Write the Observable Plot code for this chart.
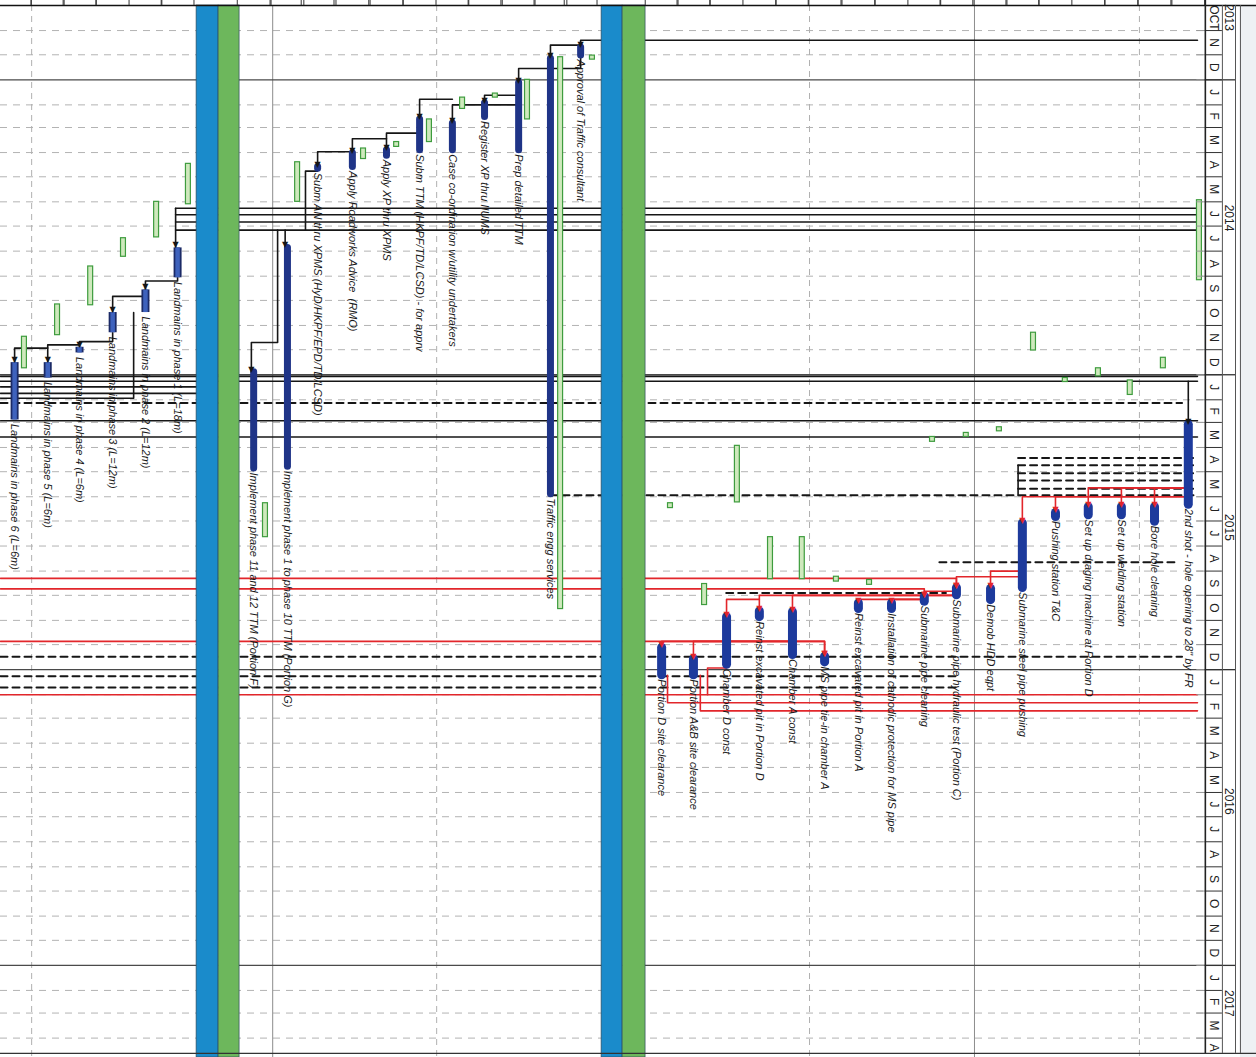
<!DOCTYPE html>
<html><head><meta charset="utf-8">
<script src="https://cdn.jsdelivr.net/npm/d3@7"></script>
<script src="https://cdn.jsdelivr.net/npm/@observablehq/plot@0.6"></script>
<style>
html,body{margin:0;padding:0;background:#fff;}
#chart svg{display:block;}
</style></head><body><div id="chart"></div>
<script>
// ---------- data (lanes = task columns, dates = schedule) ----------
const tasks = [
 {id:"p6", name:"Landmains in phase 6 (L=6m)", lane:0, start:"2014-12-17", end:"2015-02-26", grp:"lm"},
 {id:"p5", name:"Landmains in phase 5 (L=6m)", lane:1.01, start:"2014-12-17", end:"2015-01-05", grp:"lm"},
 {id:"p4", name:"Landmains in phase 4 (L=6m)", lane:1.98, start:"2014-11-28", end:"2014-12-05", grp:"lm"},
 {id:"p3", name:"Landmains in phase 3 (L=12m)", lane:2.99, start:"2014-10-16", end:"2014-11-10", grp:"lm"},
 {id:"p2", name:"Landmains in phase 2 (L=12m)", lane:3.99, start:"2014-09-18", end:"2014-10-16", grp:"lm"},
 {id:"p1", name:"Landmains in phase 1 (L=18m)", lane:4.97, start:"2014-07-28", end:"2014-09-03", grp:"lm"},
 {id:"f", name:"Implement phase 11 and 12 TTM (Portion F)", lane:7.29, start:"2014-12-29", end:"2015-04-27", grp:"mid"},
 {id:"g", name:"Implement phase 1 to phase 10 TTM (Portion G)", lane:8.32, start:"2014-07-28", end:"2015-04-25", grp:"mid"},
 {id:"suban", name:"Subm AN thru XPMS (HyD/HKPF/EPD/TD/LCSD)", lane:9.24, start:"2014-04-19", end:"2014-04-21", grp:"ms"},
 {id:"road", name:"Apply Roadworks Advice  (RMO)", lane:10.30, start:"2014-04-02", end:"2014-04-19", grp:"mid"},
 {id:"xp", name:"Apply XP thru XPMS", lane:11.34, start:"2014-03-29", end:"2014-04-05", grp:"mid"},
 {id:"ttm", name:"Subm TTM (HKPF/TD/LCSD) - for apprv", lane:12.35, start:"2014-02-19", end:"2014-03-29", grp:"mid"},
 {id:"case", name:"Case co-ordination w/utility undertakers", lane:13.35, start:"2014-02-24", end:"2014-03-29", grp:"mid"},
 {id:"reg", name:"Register XP thru IIUMS", lane:14.33, start:"2014-01-30", end:"2014-02-16", grp:"mid"},
 {id:"prep", name:"Prep detailed TTM", lane:15.37, start:"2014-01-05", end:"2014-03-29", grp:"mid"},
 {id:"traffic", name:"Traffic engg services", lane:16.34, start:"2013-12-06", end:"2015-05-29", grp:"mid"},
 {id:"appr", name:"Approval of Traffic consultant", lane:17.26, start:"2013-11-22", end:"2013-12-02", grp:"mid"},
 {id:"portD", name:"Portion D site clearance", lane:19.73, start:"2015-12-05", end:"2016-01-08", grp:"rt"},
 {id:"portAB", name:"Portion A&B site clearance", lane:20.70, start:"2015-12-19", end:"2016-01-08", grp:"rt"},
 {id:"chD", name:"Chamber D const", lane:21.71, start:"2015-10-28", end:"2015-12-26", grp:"rt"},
 {id:"reinD", name:"Reinst excavated pit in Portion D", lane:22.71, start:"2015-10-21", end:"2015-10-28", grp:"rt"},
 {id:"chA", name:"Chamber A const", lane:23.72, start:"2015-10-22", end:"2015-12-14", grp:"rt"},
 {id:"tie", name:"MS pipe tie-in chamber A", lane:24.70, start:"2015-12-16", end:"2015-12-23", grp:"rt"},
 {id:"reinA", name:"Reinst excavated pit in Portion A", lane:25.73, start:"2015-10-11", end:"2015-10-18", grp:"rt"},
 {id:"cath", name:"Installation of cathodic protection for MS pipe", lane:26.74, start:"2015-10-11", end:"2015-10-18", grp:"rt"},
 {id:"clean", name:"Submarine pipe cleaning", lane:27.74, start:"2015-10-03", end:"2015-10-09", grp:"rt"},
 {id:"hydro", name:"Submarine pipe hydraulic test (Portion C)", lane:28.72, start:"2015-09-22", end:"2015-10-01", grp:"rt"},
 {id:"demob", name:"Demob HDD eqpt", lane:29.76, start:"2015-09-23", end:"2015-10-07", grp:"rt"},
 {id:"push", name:"Submarine steel pipe pushing", lane:30.73, start:"2015-07-04", end:"2015-09-22", grp:"rt"},
 {id:"pushtc", name:"Pushing station T&C", lane:31.74, start:"2015-06-21", end:"2015-06-26", grp:"rt"},
 {id:"drag", name:"Set up draging machine at Portion D", lane:32.74, start:"2015-06-14", end:"2015-06-24", grp:"rt"},
 {id:"weld", name:"Set up welding station", lane:33.75, start:"2015-06-14", end:"2015-06-24", grp:"rt"},
 {id:"bore", name:"Bore hole cleaning", lane:34.76, start:"2015-06-14", end:"2015-07-02", grp:"rt"},
 {id:"shot2", name:"2nd shot - hole opening to 28\" by FR", lane:35.79, start:"2015-03-04", end:"2015-06-11", grp:"rt"}
];

const baselines = [
 {lane:5.30, start:"2014-04-15", end:"2014-06-04"},
 {lane:4.33, start:"2014-06-01", end:"2014-07-15"},
 {lane:3.32, start:"2014-07-16", end:"2014-08-08"},
 {lane:2.32, start:"2014-08-20", end:"2014-10-07"},
 {lane:1.31, start:"2014-10-06", end:"2014-11-13"},
 {lane:0.30, start:"2014-11-15", end:"2014-12-24"},
 {lane:7.65, start:"2015-06-09", end:"2015-07-21"},
 {lane:8.63, start:"2014-04-13", end:"2014-06-01"},
 {lane:10.64, start:"2014-03-27", end:"2014-04-09"},
 {lane:11.65, start:"2014-03-19", end:"2014-03-25"},
 {lane:12.65, start:"2014-02-19", end:"2014-03-19"},
 {lane:13.66, start:"2014-01-23", end:"2014-02-06"},
 {lane:14.66, start:"2014-01-18", end:"2014-01-23"},
 {lane:15.64, start:"2014-01-01", end:"2014-02-19"},
 {lane:16.65, start:"2013-12-04", end:"2015-10-18"},
 {lane:17.62, start:"2013-12-02", end:"2013-12-07"},
 {lane:36.13, start:"2014-05-30", end:"2014-09-06"},
 {lane:31.07, start:"2014-11-10", end:"2014-12-02"},
 {lane:33.05, start:"2014-12-24", end:"2015-01-03"},
 {lane:34.02, start:"2015-01-08", end:"2015-01-26"},
 {lane:35.03, start:"2014-12-11", end:"2014-12-24"},
 {lane:32.04, start:"2015-01-05", end:"2015-01-10"},
 {lane:27.99, start:"2015-03-19", end:"2015-03-25"},
 {lane:29.02, start:"2015-03-14", end:"2015-03-19"},
 {lane:30.03, start:"2015-03-07", end:"2015-03-12"},
 {lane:22.04, start:"2015-03-30", end:"2015-06-08"},
 {lane:20.00, start:"2015-06-09", end:"2015-06-15"},
 {lane:23.05, start:"2015-07-21", end:"2015-09-11"},
 {lane:24.02, start:"2015-07-21", end:"2015-09-11"},
 {lane:25.06, start:"2015-09-08", end:"2015-09-14"},
 {lane:26.07, start:"2015-09-12", end:"2015-09-18"},
 {lane:21.04, start:"2015-09-17", end:"2015-10-13"}
];

// task-to-task dependency links (horizontal leg drawn at date "at")
const links = [
 {from:"appr", to:"traffic", at:"2013-11-19", kind:"k"},
 {from:"appr", to:"prep", at:"2013-12-18", kind:"k"},
 {from:"prep", to:"reg", at:"2014-01-20", kind:"k"},
 {from:"prep", to:"case", at:"2014-02-01", kind:"k"},
 {from:"case", to:"ttm", at:"2014-01-25", kind:"k"},
 {from:"ttm", to:"xp", at:"2014-03-08", kind:"k"},
 {from:"xp", to:"road", at:"2014-03-15", kind:"k"},
 {from:"road", to:"suban", at:"2014-03-31", kind:"k"},
 {from:"p1", to:"p2", at:"2014-09-07", kind:"k"},
 {from:"p2", to:"p3", at:"2014-09-26", kind:"k"},
 {from:"p3", to:"p4", at:"2014-11-21", kind:"k"},
 {from:"p4", to:"p5", at:"2014-11-25", kind:"k"},
 {from:"p5", to:"p6", at:"2014-11-29", kind:"k"},
 {from:"shot2", to:"bore", at:"2015-05-21", kind:"r"},
 {from:"shot2", to:"weld", at:"2015-05-21", kind:"r"},
 {from:"shot2", to:"drag", at:"2015-05-21", kind:"r"},
 {from:"shot2", to:"pushtc", at:"2015-06-01", kind:"r"},
 {from:"shot2", to:"push", at:"2015-06-01", kind:"r"},
 {from:"push", to:"demob", at:"2015-09-01", kind:"r"},
 {from:"push", to:"hydro", at:"2015-09-08", kind:"r"},
 {from:"hydro", to:"clean", at:"2015-09-26", kind:"r"},
 {from:"clean", to:"cath", at:"2015-10-06", kind:"r"},
 {from:"clean", to:"reinA", at:"2015-10-06", kind:"r"},
 {from:"hydro", to:"chA", at:"2015-10-01", kind:"r"},
 {from:"hydro", to:"reinD", at:"2015-10-01", kind:"r"},
 {from:"reinD", to:"chD", at:"2015-10-06", kind:"r"},
 {from:"chA", to:"tie", at:"2015-11-27", kind:"r"},
 {from:"chA", to:"portD", at:"2015-11-27", kind:"r"},
 {from:"chA", to:"portAB", at:"2015-11-27", kind:"r"}
];

// links running off the chart (lane, date) vertices
const paths = [
 {id:"b40", kind:"k", arrow:true, pts:[[36.07,"2013-11-13"],[17.26,"2013-11-13"],[17.26,"2013-11-22"]]},
 {id:"b208", kind:"k", pts:[[36.07,"2014-06-09"],[4.91,"2014-06-09"]]},
 {id:"b215", kind:"k", pts:[[36.07,"2014-06-17"],[4.91,"2014-06-17"]]},
 {id:"b222", kind:"k", pts:[[36.07,"2014-06-26"],[4.91,"2014-06-26"]]},
 {id:"b230", kind:"k", pts:[[36.07,"2014-07-06"],[4.91,"2014-07-06"]]},
 {id:"v175", kind:"k", arrow:true, pts:[[4.91,"2014-06-09"],[4.91,"2014-07-28"]]},
 {id:"vg", kind:"k", arrow:true, pts:[[8.25,"2014-07-06"],[8.25,"2014-07-28"]]},
 {id:"vf", kind:"k", arrow:true, pts:[[8.02,"2014-07-06"],[8.02,"2014-11-22"],[7.22,"2014-11-22"],[7.22,"2014-12-29"]]},
 {id:"van", kind:"k", pts:[[9.24,"2014-04-24"],[8.87,"2014-04-24"],[8.87,"2014-07-06"]]},
 {id:"b376", kind:"k", pts:[[-0.43,"2015-01-03"],[36.07,"2015-01-03"]]},
 {id:"b381", kind:"k", pts:[[-0.43,"2015-01-09"],[36.07,"2015-01-09"]]},
 {id:"b387", kind:"k", pts:[[-0.43,"2015-01-16"],[5.55,"2015-01-16"]]},
 {id:"b393", kind:"k", pts:[[-0.43,"2015-01-24"],[5.55,"2015-01-24"]]},
 {id:"b398", kind:"k", pts:[[3.63,"2014-10-16"],[3.63,"2015-01-30"],[-0.43,"2015-01-30"]]},
 {id:"b403", kind:"kd", pts:[[-0.43,"2015-02-05"],[35.6,"2015-02-05"]]},
 {id:"b421", kind:"k", pts:[[-0.43,"2015-02-27"],[36.07,"2015-02-27"]]},
 {id:"b437", kind:"k", pts:[[-0.43,"2015-03-19"],[36.07,"2015-03-19"]]},
 {id:"v2nd", kind:"k", arrow:true, pts:[[35.79,"2015-01-09"],[35.79,"2015-03-04"]]},
 {id:"b458", kind:"kd", pts:[[30.6,"2015-04-14"],[36.07,"2015-04-14"]]},
 {id:"b465", kind:"kd", pts:[[30.6,"2015-04-23"],[36.07,"2015-04-23"]]},
 {id:"b473", kind:"kd", pts:[[30.6,"2015-05-03"],[36.07,"2015-05-03"]]},
 {id:"b480", kind:"kd", pts:[[30.6,"2015-05-12"],[36.07,"2015-05-12"]]},
 {id:"b488", kind:"kd", pts:[[30.6,"2015-05-22"],[36.07,"2015-05-22"]]},
 {id:"vpush", kind:"k", pts:[[30.6,"2015-04-23"],[30.6,"2015-05-30"]]},
 {id:"b495", kind:"kd", pts:[[16.34,"2015-05-30"],[36.07,"2015-05-30"]]},
 {id:"b563", kind:"kd", pts:[[28.2,"2015-08-21"],[35.5,"2015-08-21"]]},
 {id:"b593", kind:"kd", pts:[[21.7,"2015-09-28"],[28.4,"2015-09-28"]]},
 {id:"b657", kind:"kd", pts:[[-0.43,"2015-12-16"],[35.6,"2015-12-16"]]},
 {id:"b676", kind:"kd", pts:[[-0.43,"2016-01-09"],[28.7,"2016-01-09"]]},
 {id:"b687", kind:"kd", pts:[[-0.43,"2016-01-23"],[28.7,"2016-01-23"]]},
 {id:"r578", kind:"r", arrow:true, pts:[[-0.43,"2015-09-10"],[28.72,"2015-09-10"],[28.72,"2015-09-22"]]},
 {id:"r589", kind:"r", arrow:true, pts:[[-0.43,"2015-09-23"],[27.74,"2015-09-23"],[27.74,"2015-10-03"]]},
 {id:"r641", kind:"r", arrow:true, pts:[[-0.43,"2015-11-27"],[24.70,"2015-11-27"],[24.70,"2015-12-16"]]},
 {id:"r696", kind:"r", pts:[[-0.43,"2016-02-01"],[36.07,"2016-02-01"]]},
 {id:"rD", kind:"r", pts:[[19.91,"2016-01-08"],[19.91,"2016-02-11"],[36.07,"2016-02-11"]]},
 {id:"rAB", kind:"r", pts:[[20.91,"2016-01-08"],[20.91,"2016-02-21"],[36.07,"2016-02-21"]]},
 {id:"rCD", kind:"r", pts:[[21.71,"2015-12-26"],[21.71,"2015-12-30"],[21.13,"2015-12-30"],[21.13,"2016-02-01"]]}
];

const bands = [
 {x1:5.55, x2:6.22, kind:"blue"}, {x1:6.22, x2:6.86, kind:"green"},
 {x1:17.90, x2:18.54, kind:"blue"}, {x1:18.54, x2:19.24, kind:"green"}
];
const vgrid = [
 {lane:0.52, kind:"dash"}, {lane:7.87, kind:"solid"}, {lane:12.87, kind:"dash"},
 {lane:24.24, kind:"dash"}, {lane:29.27, kind:"solid"}, {lane:34.30, kind:"dash"}
];
const monthLetters = ["J","F","M","A","M","J","J","A","S","O","N","D"];
const firstMonthLabel = "OCT";
const yearLabels = [
 {year:"2013", at:"2013-10-16"}, {year:"2014", at:"2014-06-21"}, {year:"2015", at:"2015-07-09"},
 {year:"2016", at:"2016-06-12"}, {year:"2017", at:"2017-02-17"}
];

// ---------- build ----------
const D = s => new Date(s + "T00:00:00Z");
const T0 = D("2013-10-01"), T1 = D("2017-04-25");
const XL = -0.43, XF = 36.31, XM = 36.83, XY = 37.23, XY2 = 37.38, XR = 37.87;
const byId = new Map(tasks.map(t => [t.id, t]));
const T = tasks.map(t => ({...t, s: D(t.start), e: D(t.end)}));
const B = baselines.map(b => ({...b, s: D(b.start), e: D(b.end)}));

function elbow(l) {
  const a = byId.get(l.from), b = byId.get(l.to);
  const at = D(l.at), s = D(a.start), e = D(a.end);
  const y0 = at < s ? at : (at > e ? e : at);
  return [[a.lane, y0], [a.lane, at], [b.lane, at], [b.lane, D(b.start)]];
}
const pts = paths.flatMap(p => p.pts.map(([lane, d]) => ({id: p.id, kind: p.kind, lane, date: D(d)})))
  .concat(links.flatMap(l => elbow(l).map(([lane, date]) => ({id: l.from + ">" + l.to, kind: l.kind, lane, date}))));
const arrows = paths.filter(p => p.arrow).map(p => {
  const [lane, d] = p.pts[p.pts.length - 1]; return {lane, date: D(d), kind: p.kind};
}).concat(links.map(l => { const b = byId.get(l.to); return {lane: b.lane, date: D(b.start), kind: l.kind}; }));

const monthStarts = d3.utcMonths(D("2013-11-01"), T1);
const yearStarts = monthStarts.filter(d => d.getUTCMonth() === 0);
const monthCells = d3.utcMonths(T0, d3.utcMonth.offset(d3.utcMonth.floor(T1), 1))
  .map((m, i) => {
    const a = Math.max(+m, +T0), b = Math.min(+d3.utcMonth.offset(m, 1), +T1);
    return {mid: new Date((a + b) / 2), label: i === 0 ? firstMonthLabel : monthLetters[m.getUTCMonth()]};
  });
const tickLanes = Array.from(new Set(tasks.flatMap(t => [+(t.lane - 0.5).toFixed(2), +(t.lane + 0.5).toFixed(2)]))).filter(v => v < XF);

const LBL = "'Liberation Sans', Arial, sans-serif";
const AX = "'Liberation Sans', Arial, sans-serif";
const kStroke = {k: "#161616", kd: "#161616", r: "#e2262b"};

const marks = [
  Plot.rect([0], {x1: XY2, x2: XR, y1: T0, y2: T1, fill: "#eef1f4"}),
  Plot.ruleY(monthStarts.filter(d => d.getUTCMonth() !== 0), {x1: XL, x2: XF, stroke: "#b3b3b3", strokeDasharray: "7,6", strokeWidth: 1}),
  Plot.ruleX(vgrid.filter(d => d.kind === "dash"), {x: "lane", stroke: "#b0b0b0", strokeDasharray: "6,5", strokeWidth: 1}),
  Plot.ruleX(vgrid.filter(d => d.kind === "solid"), {x: "lane", stroke: "#8c8c8c", strokeWidth: 1}),
  Plot.ruleY(yearStarts, {x1: XL, x2: XF, stroke: "#4a4a4a", strokeWidth: 1.4}),
  Plot.line(pts.filter(d => d.kind === "k"), {x: "lane", y: "date", z: "id", stroke: kStroke.k, strokeWidth: 1.6}),
  Plot.line(pts.filter(d => d.kind === "kd"), {x: "lane", y: "date", z: "id", stroke: kStroke.kd, strokeWidth: 2, strokeDasharray: "7,5"}),
  Plot.line(pts.filter(d => d.kind === "r"), {x: "lane", y: "date", z: "id", stroke: kStroke.r, strokeWidth: 1.6}),
  Plot.rect(bands.filter(d => d.kind === "blue"), {x1: "x1", x2: "x2", y1: T0, y2: T1, fill: "#1a8bcb", stroke: "#2e4b5c", strokeWidth: 0.7}),
  Plot.rect(bands.filter(d => d.kind === "green"), {x1: "x1", x2: "x2", y1: T0, y2: T1, fill: "#6db75c", stroke: "#2e4b5c", strokeWidth: 0.7}),
  Plot.rect(B, {x1: d => d.lane - 0.075, x2: d => d.lane + 0.075, y1: "s", y2: "e", fill: "#cfe9bd", stroke: "#3e9c3e", strokeWidth: 1.2}),
  Plot.ruleX(T.filter(d => d.grp === "lm"), {x: "lane", y1: "s", y2: "e", stroke: "#1b2a66", strokeWidth: 8}),
  Plot.ruleX(T.filter(d => d.grp === "lm"), {x: "lane", y1: "s", y2: "e", stroke: "#3e62bd", strokeWidth: 4.5}),
  Plot.ruleX(T.filter(d => d.grp === "mid" || d.grp === "ms"), {x: "lane", y1: "s", y2: "e", stroke: "#1f3487", strokeWidth: 7, strokeLinecap: "round"}),
  Plot.ruleX(T.filter(d => d.grp === "rt"), {x: "lane", y1: "s", y2: "e", stroke: "#1d3a9c", strokeWidth: 9, strokeLinecap: "round"}),
  Plot.text(arrows.filter(d => d.kind !== "r"), {x: "lane", y: "date", text: () => "\u25BC", fill: "#161616", fontSize: 8, dy: -3, fontFamily: "DejaVu Sans"}),
  Plot.text(arrows.filter(d => d.kind === "r"), {x: "lane", y: "date", text: () => "\u25BC", fill: "#e2262b", fontSize: 8, dy: -3, fontFamily: "DejaVu Sans"}),
  Plot.text(T, {x: "lane", y: "e", text: "name", rotate: 90, textAnchor: "start", lineAnchor: "middle", dy: 4,
    fontSize: 11, fontStyle: "italic", fontFamily: LBL, fill: "#1a1a1a", ariaLabel: "task-labels"}),
  Plot.ruleY([T0], {x1: XL, x2: XR, stroke: "#111", strokeWidth: 1.5}),
  Plot.ruleY([D("2017-04-20")], {x1: XL, x2: XR, stroke: "#333", strokeWidth: 1.2}),
  Plot.ruleX(tickLanes, {x: d => d, y1: D("2013-09-24"), y2: T0, stroke: "#333", strokeWidth: 1}),
  Plot.ruleY(monthStarts, {x1: 36.05, x2: XF, stroke: "#9a9a9a", strokeWidth: 1}),
  Plot.ruleY(monthStarts, {x1: XF, x2: XM, stroke: "#333", strokeWidth: 1}),
  Plot.ruleY(yearStarts, {x1: XF, x2: XY, stroke: "#333", strokeWidth: 1.3}),
  Plot.ruleX([XF], {y1: D("2013-09-24"), y2: D("2017-04-20"), stroke: "#222", strokeWidth: 1.6}),
  Plot.ruleX([XM, XY, XY2], {x: d => d, y1: T0, y2: D("2017-04-20"), stroke: "#555", strokeWidth: 1}),
  Plot.text(monthCells, {x: () => 36.57, y: "mid", text: "label", rotate: 90, fontSize: 12, fontFamily: AX, fill: "#222"}),
  Plot.text(yearLabels, {x: () => 37.03, y: d => D(d.at), text: "year", rotate: 90, fontSize: 12, fontFamily: AX, fill: "#222"})
];

const chart = Plot.plot({
  width: 1256, height: 1057,
  marginLeft: 0, marginRight: 0, marginTop: 5, marginBottom: 0,
  x: {domain: [XL, XR], axis: null},
  y: {type: "utc", domain: [T0, T1], reverse: true, axis: null},
  style: {background: "#fff", overflow: "visible"},
  marks
});
// narrow the task labels along their reading direction (the original uses a condensed face)
d3.select(chart).selectAll('g[aria-label="task-labels"] text').each(function() {
  const t = this.getAttribute("transform") || "";
  this.setAttribute("transform", t + " scale(0.8,1)");
});
document.getElementById("chart").appendChild(chart);
</script></body></html>
